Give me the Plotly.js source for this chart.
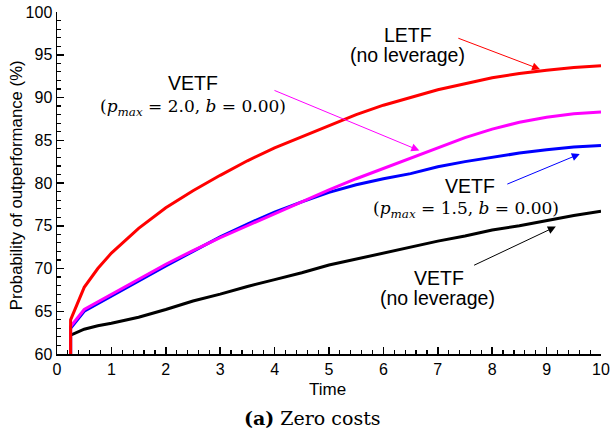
<!DOCTYPE html>
<html>
<head>
<meta charset="utf-8">
<script src="https://cdn.plot.ly/plotly-3.0.1.min.js"></script>
<style>html,body{margin:0;padding:0;background:#fff}#chart{width:611px;height:432px}</style>
</head>
<body>
<div id="chart"></div>
<script>
// Time grid
const time = [0.25, 0.25, 0.5, 0.75, 1, 1.5, 2, 2.5, 3, 3.5, 4, 4.5, 5, 5.5, 6, 6.5, 7, 7.5, 8, 8.5, 9, 9.5, 10];
// Probability of outperformance (%)
const letfNoLev   = [60, 64.0, 67.8, 70.0, 71.8, 74.7, 77.1, 79.1, 80.9, 82.6, 84.1, 85.4, 86.7, 88.0, 89.1, 90.0, 90.9, 91.6, 92.3, 92.8, 93.2, 93.5, 93.7];
const vetfP20     = [60, 63.2, 65.2, 66.1, 66.9, 68.7, 70.5, 72.1, 73.6, 75.0, 76.4, 77.8, 79.2, 80.5, 81.7, 82.9, 84.1, 85.3, 86.3, 87.1, 87.7, 88.1, 88.3];
const vetfP15     = [60, 63.0, 65.0, 65.9, 66.7, 68.5, 70.3, 72.0, 73.7, 75.2, 76.6, 77.8, 78.9, 79.8, 80.5, 81.1, 81.9, 82.5, 83.0, 83.5, 83.9, 84.2, 84.4];
const vetfNoLev   = [60, 62.2, 62.9, 63.3, 63.6, 64.3, 65.2, 66.2, 67.0, 67.9, 68.7, 69.5, 70.4, 71.1, 71.8, 72.5, 73.2, 73.8, 74.5, 75.0, 75.6, 76.2, 76.7];

const sans = '"Liberation Sans", Arial, Helvetica, sans-serif';
const serif = '"DejaVu Serif", "Liberation Serif", serif';

function line(y, color, name) {
  return {x: time, y: y, type: 'scatter', mode: 'lines', name: name,
          line: {color: color, width: 3}, showlegend: false, cliponaxis: true};
}
const data = [
  line(vetfNoLev, '#000000', 'VETF (no leverage)'),
  line(vetfP15, '#0000ff', 'VETF (pmax=1.5)'),
  line(vetfP20, '#ff00ff', 'VETF (pmax=2.0)'),
  line(letfNoLev, '#ff0000', 'LETF (no leverage)')
];

function txt(x, y, text, font) {
  return {x: x, y: y, xref: 'x', yref: 'y', text: text, showarrow: false,
          xanchor: 'center', yanchor: 'middle', font: font};
}
function arrow(x, y, ax, ay, color) {
  return {x: x, y: y, ax: ax, ay: ay, xref: 'x', yref: 'y', axref: 'x', ayref: 'y',
          text: '', showarrow: true, arrowhead: 2, arrowsize: 1.6, arrowwidth: 1, arrowcolor: color};
}
const fs = {family: sans, size: 19.5, color: '#000'};
const fm = {family: serif, size: 17, color: '#000'};
const mathText = p => '(<i>p</i><sub><i>max</i></sub> = ' + p + ', <i>b</i> = 0.00)';

const annotations = [
  txt(6.45, 97.3, 'LETF', fs),
  txt(6.45, 95.0, '(no leverage)', fs),
  arrow(8.88, 93.3, 7.35, 97.0, '#ff0000'),
  txt(2.5, 91.7, 'VETF', fs),
  txt(2.5, 88.8, mathText('2.0'), fm),
  arrow(6.66, 83.8, 3.97, 90.9, '#ff00ff'),
  txt(7.59, 79.7, 'VETF', fs),
  txt(7.52, 76.9, mathText('1.5'), fm),
  arrow(9.61, 83.4, 8.25, 79.8, '#0000ff'),
  txt(7.02, 68.9, 'VETF', fs),
  txt(6.99, 66.5, '(no leverage)', fs),
  arrow(9.17, 74.9, 7.64, 70.3, '#000000'),
  {x: 0.498, y: -0.105, xref: 'paper', yref: 'paper', showarrow: false,
   xanchor: 'center', yanchor: 'middle', text: 'Time',
   font: {family: sans, size: 17, color: '#000'}},
  {x: -0.075, y: 0.494, xref: 'paper', yref: 'paper', showarrow: false,
   xanchor: 'center', yanchor: 'middle', textangle: -90,
   text: 'Probability of outperformance (%)',
   font: {family: sans, size: 16.8, color: '#000'}},
  {x: 0.469, y: -0.187, xref: 'paper', yref: 'paper', showarrow: false,
   xanchor: 'center', yanchor: 'middle',
   text: '<b>(a)</b> Zero costs', font: {family: serif, size: 19, color: '#000'}}
];

const axisCommon = {
  showgrid: false, zeroline: false, showline: true, linecolor: '#000', linewidth: 1.5,
  mirror: false, ticks: 'inside', ticklen: 7, tickwidth: 1.5, tickcolor: '#000',
  tickfont: {family: sans, size: 16, color: '#000'}
};

const layout = {
  width: 611, height: 432,
  margin: {l: 57, r: 10, t: 12, b: 78},
  paper_bgcolor: '#fff', plot_bgcolor: '#fff',
  showlegend: false,
  xaxis: Object.assign({}, axisCommon, {
    range: [0, 10], dtick: 1, tick0: 0,
    minor: {dtick: 0.2, ticks: 'inside', ticklen: 4, tickwidth: 1.2, tickcolor: '#000'}
  }),
  yaxis: Object.assign({}, axisCommon, {
    range: [60, 100], dtick: 5, tick0: 60,
    minor: {dtick: 1, ticks: 'inside', ticklen: 4, tickwidth: 1.2, tickcolor: '#000'}
  }),
  annotations: annotations
};

Plotly.newPlot('chart', data, layout, {displayModeBar: false, staticPlot: true});
</script>
</body>
</html>
